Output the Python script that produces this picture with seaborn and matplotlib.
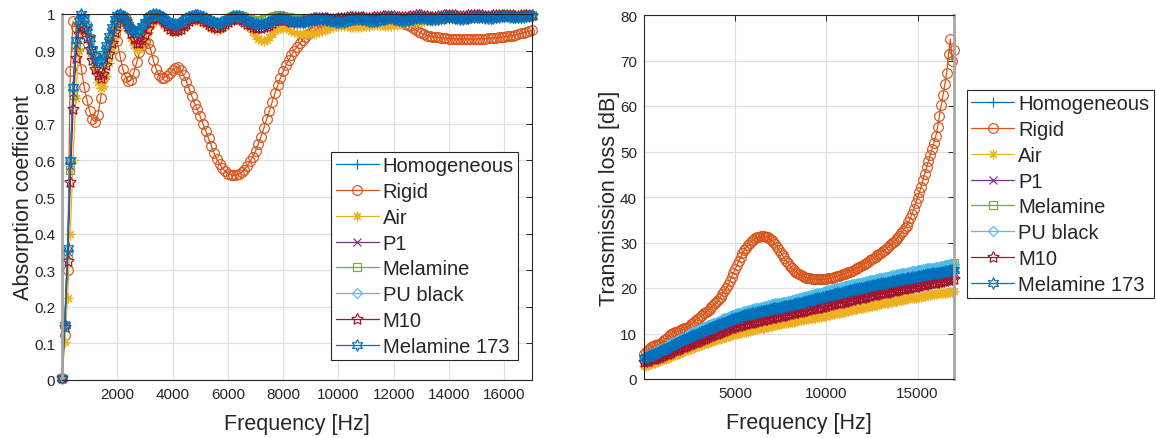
import numpy as np
import pandas as pd
import matplotlib
matplotlib.use("Agg")
import matplotlib.pyplot as plt
import seaborn as sns

# frequency grid [Hz]
freq = np.arange(0, 17001, 100)

names = ["Homogeneous", "Rigid", "Air", "P1", "Melamine", "PU black", "M10", "Melamine 173"]
colors = ["#0072BD", "#D95319", "#EDB120", "#7E2F8E", "#77AC30", "#4DBEEE", "#A2142F", "#0072BD"]
markers = ["+", "o", (8, 2, 0), "x", "s", "D", (5, 1, 0), (6, 1, 0)]
msizes = [7, 7, 7, 6, 6, 5.5, 8.5, 8.5]

abs_yticks = [0, 0.1, 0.2, 0.3, 0.4, 0.5, 0.6, 0.7, 0.8, 0.9, 1]
abs_ylabels = ["0", "0.1", "0.2", "0.3", "0.4", "0.5", "0.6", "0.7", "0.8", "0.9", "1"]
abs_xticks = [2000, 4000, 6000, 8000, 10000, 12000, 14000, 16000]
tl_yticks = [0, 10, 20, 30, 40, 50, 60, 70, 80]
tl_xticks = [5000, 10000, 15000]

# ---------------- absorption coefficient ----------------
abs_homogeneous = [
    0.005, 0.15, 0.35, 0.59, 0.79, 0.92, 0.975, 0.995, 0.99, 0.967,
    0.937, 0.905, 0.882, 0.868, 0.87, 0.886, 0.912, 0.938, 0.963, 0.983,
    0.995, 0.999, 0.994, 0.981, 0.967, 0.957, 0.95, 0.949, 0.954, 0.965,
    0.976, 0.986, 0.994, 0.998, 0.999, 0.997, 0.991, 0.985, 0.979, 0.974,
    0.971, 0.97, 0.972, 0.976, 0.981, 0.986, 0.99, 0.993, 0.995, 0.995,
    0.993, 0.99, 0.986, 0.982, 0.978, 0.975, 0.974, 0.974, 0.976, 0.98,
    0.985, 0.989, 0.992, 0.993, 0.992, 0.989, 0.985, 0.981, 0.977, 0.974,
    0.972, 0.971, 0.971, 0.972, 0.974, 0.977, 0.981, 0.984, 0.986, 0.987,
    0.986, 0.984, 0.981, 0.979, 0.977, 0.976, 0.976, 0.976, 0.977, 0.979,
    0.981, 0.983, 0.984, 0.985, 0.985, 0.984, 0.982, 0.98, 0.978, 0.977,
    0.976, 0.976, 0.977, 0.979, 0.981, 0.983, 0.984, 0.985, 0.984, 0.983,
    0.981, 0.979, 0.978, 0.978, 0.979, 0.981, 0.983, 0.985, 0.986, 0.986,
    0.985, 0.983, 0.981, 0.98, 0.98, 0.981, 0.983, 0.985, 0.987, 0.988,
    0.988, 0.987, 0.985, 0.984, 0.983, 0.983, 0.984, 0.986, 0.988, 0.989,
    0.99, 0.989, 0.988, 0.986, 0.985, 0.985, 0.986, 0.987, 0.989, 0.99,
    0.991, 0.991, 0.99, 0.988, 0.987, 0.987, 0.988, 0.989, 0.991, 0.992,
    0.992, 0.992, 0.991, 0.99, 0.989, 0.989, 0.99, 0.991, 0.992, 0.993,
    0.993]
abs_rigid = [
    0.005, 0.123, 0.30, 0.845, 0.98, 0.965, 0.91, 0.85, 0.80, 0.765,
    0.735, 0.712, 0.705, 0.725, 0.77, 0.825, 0.875, 0.91, 0.935, 0.945,
    0.925, 0.885, 0.85, 0.828, 0.817, 0.82, 0.84, 0.868, 0.895, 0.915,
    0.925, 0.922, 0.905, 0.875, 0.85, 0.833, 0.826, 0.826, 0.831, 0.838,
    0.846, 0.853, 0.855, 0.847, 0.832, 0.815, 0.795, 0.775, 0.755, 0.74,
    0.72, 0.70, 0.68, 0.66, 0.64, 0.62, 0.603, 0.59, 0.579, 0.57,
    0.564, 0.561, 0.559, 0.56, 0.563, 0.567, 0.575, 0.585, 0.597, 0.61,
    0.625, 0.645, 0.665, 0.688, 0.712, 0.735, 0.76, 0.783, 0.805, 0.825,
    0.843, 0.86, 0.875, 0.888, 0.90, 0.91, 0.92, 0.929, 0.937, 0.944,
    0.95, 0.955, 0.96, 0.964, 0.967, 0.97, 0.972, 0.974, 0.975, 0.976,
    0.977, 0.978, 0.979, 0.98, 0.981, 0.982, 0.983, 0.983, 0.983, 0.982,
    0.981, 0.98, 0.979, 0.979, 0.979, 0.98, 0.981, 0.982, 0.983, 0.983,
    0.982, 0.981, 0.979, 0.977, 0.974, 0.971, 0.966, 0.961, 0.956, 0.951,
    0.947, 0.944, 0.941, 0.939, 0.938, 0.937, 0.936, 0.935, 0.934, 0.934,
    0.933, 0.933, 0.932, 0.932, 0.932, 0.932, 0.932, 0.932, 0.932, 0.932,
    0.932, 0.933, 0.933, 0.933, 0.934, 0.934, 0.935, 0.935, 0.936, 0.937,
    0.938, 0.939, 0.94, 0.941, 0.943, 0.945, 0.947, 0.949, 0.951, 0.953,
    0.956]
abs_air = [
    0.005, 0.105, 0.224, 0.40, 0.60, 0.77, 0.90, 0.96, 0.975, 0.958,
    0.925, 0.885, 0.85, 0.815, 0.797, 0.803, 0.83, 0.865, 0.90, 0.935,
    0.96, 0.975, 0.978, 0.97, 0.955, 0.935, 0.915, 0.905, 0.905, 0.915,
    0.932, 0.952, 0.968, 0.978, 0.983, 0.983, 0.978, 0.97, 0.962, 0.956,
    0.952, 0.951, 0.953, 0.958, 0.965, 0.972, 0.978, 0.982, 0.984, 0.984,
    0.982, 0.978, 0.972, 0.966, 0.961, 0.958, 0.957, 0.958, 0.962, 0.968,
    0.975, 0.981, 0.985, 0.986, 0.985, 0.982, 0.978, 0.972, 0.962, 0.95,
    0.94, 0.932, 0.928, 0.927, 0.93, 0.937, 0.946, 0.955, 0.96, 0.963,
    0.963, 0.961, 0.958, 0.954, 0.951, 0.948, 0.946, 0.945, 0.945, 0.945,
    0.946, 0.947, 0.949, 0.951, 0.954, 0.957, 0.96, 0.963, 0.965, 0.967,
    0.968, 0.968, 0.967, 0.966, 0.965, 0.964, 0.964, 0.964, 0.965, 0.966,
    0.967, 0.968, 0.969, 0.97, 0.97, 0.97, 0.969, 0.968, 0.968, 0.968,
    0.969, 0.97, 0.972, 0.974, 0.976, 0.977, 0.978, 0.978, 0.978, 0.978,
    0.979, 0.98, 0.981, 0.982, 0.982, 0.982, 0.983, 0.984, 0.985, 0.986,
    0.986, 0.986, 0.986, 0.986, 0.987, 0.988, 0.989, 0.989, 0.989, 0.989,
    0.989, 0.989, 0.989, 0.99, 0.99, 0.991, 0.991, 0.991, 0.991, 0.991,
    0.991, 0.991, 0.991, 0.992, 0.992, 0.992, 0.992, 0.992, 0.993, 0.993,
    0.993]
abs_p1 = [
    0.005, 0.15, 0.35, 0.585, 0.785, 0.915, 0.97, 0.99, 0.985, 0.962,
    0.932, 0.90, 0.876, 0.862, 0.864, 0.88, 0.906, 0.933, 0.959, 0.98,
    0.993, 0.998, 0.993, 0.979, 0.964, 0.953, 0.946, 0.945, 0.95, 0.962,
    0.974, 0.985, 0.993, 0.998, 0.999, 0.996, 0.99, 0.983, 0.976, 0.971,
    0.968, 0.967, 0.969, 0.974, 0.979, 0.985, 0.99, 0.993, 0.995, 0.995,
    0.993, 0.99, 0.985, 0.98, 0.976, 0.973, 0.972, 0.972, 0.975, 0.979,
    0.985, 0.989, 0.992, 0.993, 0.992, 0.989, 0.985, 0.98, 0.976, 0.973,
    0.971, 0.97, 0.97, 0.971, 0.973, 0.977, 0.981, 0.984, 0.986, 0.987,
    0.987, 0.985, 0.982, 0.98, 0.978, 0.977, 0.977, 0.977, 0.978, 0.98,
    0.982, 0.984, 0.985, 0.986, 0.986, 0.985, 0.983, 0.981, 0.979, 0.978,
    0.977, 0.977, 0.978, 0.98, 0.982, 0.984, 0.985, 0.986, 0.985, 0.984,
    0.982, 0.98, 0.979, 0.979, 0.98, 0.982, 0.984, 0.986, 0.987, 0.987,
    0.986, 0.984, 0.982, 0.981, 0.981, 0.982, 0.984, 0.986, 0.988, 0.989,
    0.989, 0.988, 0.986, 0.985, 0.984, 0.984, 0.985, 0.987, 0.989, 0.99,
    0.991, 0.99, 0.989, 0.987, 0.986, 0.986, 0.987, 0.988, 0.99, 0.991,
    0.992, 0.992, 0.991, 0.989, 0.988, 0.988, 0.989, 0.99, 0.992, 0.993,
    0.993, 0.993, 0.992, 0.991, 0.99, 0.99, 0.991, 0.992, 0.993, 0.994,
    0.994]
abs_melamine = [
    0.005, 0.15, 0.345, 0.575, 0.78, 0.91, 0.965, 0.99, 0.99, 0.968,
    0.935, 0.90, 0.872, 0.855, 0.852, 0.865, 0.89, 0.92, 0.95, 0.975,
    0.99, 0.997, 0.995, 0.985, 0.972, 0.96, 0.952, 0.949, 0.952, 0.962,
    0.975, 0.986, 0.994, 0.999, 1.0, 0.998, 0.993, 0.986, 0.979, 0.974,
    0.97, 0.969, 0.971, 0.976, 0.982, 0.988, 0.993, 0.996, 0.998, 0.998,
    0.996, 0.993, 0.989, 0.984, 0.98, 0.977, 0.975, 0.975, 0.978, 0.983,
    0.988, 0.992, 0.995, 0.996, 0.996, 0.994, 0.991, 0.988, 0.985, 0.983,
    0.982, 0.982, 0.983, 0.985, 0.987, 0.99, 0.993, 0.995, 0.996, 0.996,
    0.995, 0.993, 0.991, 0.989, 0.987, 0.986, 0.985, 0.985, 0.986, 0.987,
    0.988, 0.989, 0.99, 0.99, 0.989, 0.988, 0.986, 0.984, 0.983, 0.982,
    0.981, 0.981, 0.982, 0.983, 0.985, 0.987, 0.988, 0.989, 0.988, 0.987,
    0.985, 0.983, 0.982, 0.982, 0.983, 0.985, 0.987, 0.989, 0.99, 0.99,
    0.989, 0.987, 0.985, 0.984, 0.984, 0.985, 0.987, 0.989, 0.991, 0.992,
    0.992, 0.991, 0.989, 0.988, 0.987, 0.987, 0.988, 0.99, 0.992, 0.993,
    0.994, 0.993, 0.992, 0.99, 0.989, 0.989, 0.99, 0.991, 0.993, 0.994,
    0.995, 0.995, 0.994, 0.992, 0.991, 0.991, 0.992, 0.993, 0.995, 0.996,
    0.996, 0.996, 0.995, 0.994, 0.993, 0.993, 0.994, 0.995, 0.996, 0.997,
    0.997]
abs_pu_black = [
    0.005, 0.15, 0.355, 0.60, 0.80, 0.925, 0.978, 0.998, 0.99, 0.967,
    0.937, 0.907, 0.884, 0.869, 0.87, 0.885, 0.91, 0.937, 0.963, 0.984,
    0.996, 1.0, 0.996, 0.984, 0.971, 0.961, 0.955, 0.954, 0.959, 0.969,
    0.98, 0.99, 0.997, 1.0, 1.0, 0.999, 0.995, 0.989, 0.983, 0.978,
    0.975, 0.974, 0.976, 0.98, 0.985, 0.99, 0.994, 0.997, 0.999, 0.999,
    0.997, 0.994, 0.99, 0.986, 0.982, 0.979, 0.978, 0.978, 0.98, 0.984,
    0.989, 0.993, 0.996, 0.997, 0.996, 0.993, 0.989, 0.985, 0.981, 0.978,
    0.976, 0.975, 0.975, 0.976, 0.978, 0.981, 0.985, 0.988, 0.99, 0.991,
    0.99, 0.988, 0.985, 0.983, 0.981, 0.98, 0.98, 0.98, 0.981, 0.983,
    0.985, 0.987, 0.988, 0.989, 0.989, 0.988, 0.986, 0.984, 0.982, 0.981,
    0.98, 0.98, 0.981, 0.983, 0.985, 0.987, 0.988, 0.989, 0.988, 0.987,
    0.985, 0.983, 0.982, 0.982, 0.983, 0.985, 0.987, 0.989, 0.99, 0.99,
    0.989, 0.987, 0.985, 0.984, 0.984, 0.985, 0.987, 0.989, 0.991, 0.992,
    0.992, 0.991, 0.989, 0.988, 0.987, 0.987, 0.988, 0.99, 0.992, 0.993,
    0.994, 0.993, 0.992, 0.99, 0.989, 0.989, 0.99, 0.991, 0.993, 0.994,
    0.995, 0.995, 0.994, 0.992, 0.991, 0.991, 0.992, 0.993, 0.995, 0.996,
    0.996, 0.996, 0.995, 0.994, 0.993, 0.993, 0.994, 0.995, 0.996, 0.997,
    0.997]
abs_m10 = [
    0.005, 0.146, 0.324, 0.54, 0.74, 0.88, 0.945, 0.965, 0.958, 0.935,
    0.905, 0.875, 0.85, 0.832, 0.826, 0.835, 0.86, 0.89, 0.922, 0.952,
    0.975, 0.988, 0.99, 0.982, 0.966, 0.948, 0.932, 0.922, 0.92, 0.928,
    0.943, 0.96, 0.975, 0.985, 0.99, 0.99, 0.985, 0.977, 0.968, 0.96,
    0.955, 0.953, 0.955, 0.96, 0.967, 0.974, 0.98, 0.985, 0.988, 0.988,
    0.986, 0.982, 0.977, 0.972, 0.967, 0.964, 0.963, 0.964, 0.967, 0.972,
    0.978, 0.983, 0.987, 0.988, 0.987, 0.984, 0.979, 0.974, 0.969, 0.965,
    0.963, 0.962, 0.962, 0.964, 0.967, 0.971, 0.976, 0.98, 0.983, 0.984,
    0.984, 0.983, 0.981, 0.979, 0.978, 0.978, 0.979, 0.98, 0.982, 0.984,
    0.986, 0.988, 0.989, 0.99, 0.99, 0.989, 0.988, 0.987, 0.987, 0.987,
    0.988, 0.989, 0.99, 0.991, 0.992, 0.993, 0.993, 0.993, 0.992, 0.991,
    0.99, 0.99, 0.99, 0.991, 0.992, 0.993, 0.994, 0.995, 0.995, 0.995,
    0.994, 0.993, 0.992, 0.992, 0.992, 0.993, 0.994, 0.995, 0.996, 0.996,
    0.996, 0.995, 0.994, 0.993, 0.993, 0.993, 0.994, 0.995, 0.996, 0.997,
    0.997, 0.997, 0.996, 0.995, 0.994, 0.994, 0.995, 0.996, 0.997, 0.997,
    0.998, 0.997, 0.996, 0.995, 0.995, 0.995, 0.996, 0.997, 0.997, 0.998,
    0.998, 0.997, 0.996, 0.996, 0.995, 0.995, 0.996, 0.997, 0.997, 0.998,
    0.998]
abs_mel173 = [
    0.005, 0.15, 0.36, 0.60, 0.80, 0.93, 0.98, 1.0, 0.99, 0.965,
    0.935, 0.905, 0.885, 0.872, 0.875, 0.89, 0.915, 0.94, 0.965, 0.985,
    0.997, 1.0, 0.995, 0.983, 0.97, 0.96, 0.953, 0.952, 0.957, 0.967,
    0.978, 0.988, 0.995, 0.999, 1.0, 0.998, 0.993, 0.987, 0.981, 0.976,
    0.973, 0.972, 0.974, 0.978, 0.983, 0.988, 0.992, 0.995, 0.997, 0.997,
    0.995, 0.992, 0.988, 0.984, 0.98, 0.977, 0.976, 0.976, 0.978, 0.982,
    0.987, 0.991, 0.994, 0.995, 0.994, 0.991, 0.987, 0.983, 0.979, 0.976,
    0.974, 0.973, 0.973, 0.974, 0.976, 0.979, 0.983, 0.986, 0.988, 0.989,
    0.988, 0.986, 0.983, 0.981, 0.979, 0.978, 0.978, 0.978, 0.979, 0.981,
    0.983, 0.985, 0.986, 0.987, 0.987, 0.986, 0.984, 0.982, 0.98, 0.979,
    0.978, 0.978, 0.979, 0.981, 0.983, 0.985, 0.986, 0.987, 0.986, 0.985,
    0.983, 0.981, 0.98, 0.98, 0.981, 0.983, 0.985, 0.987, 0.988, 0.988,
    0.987, 0.985, 0.983, 0.982, 0.982, 0.983, 0.985, 0.987, 0.989, 0.99,
    0.99, 0.989, 0.987, 0.986, 0.985, 0.985, 0.986, 0.988, 0.99, 0.991,
    0.992, 0.991, 0.99, 0.988, 0.987, 0.987, 0.988, 0.989, 0.991, 0.992,
    0.993, 0.993, 0.992, 0.99, 0.989, 0.989, 0.99, 0.991, 0.993, 0.994,
    0.994, 0.994, 0.993, 0.992, 0.991, 0.991, 0.992, 0.993, 0.994, 0.995,
    0.995]

# ---------------- transmission loss [dB] ----------------
tl_homogeneous = [
    4.4, 4.6, 4.7, 4.9, 5.1, 5.3, 5.4, 5.6, 5.8, 5.9,
    6.1, 6.3, 6.5, 6.7, 6.9, 7.1, 7.3, 7.5, 7.7, 7.9,
    8.1, 8.3, 8.5, 8.6, 8.8, 9.0, 9.2, 9.4, 9.5, 9.7,
    9.9, 10.1, 10.2, 10.4, 10.6, 10.8, 10.9, 11.1, 11.3, 11.4,
    11.6, 11.8, 11.9, 12.1, 12.2, 12.4, 12.6, 12.7, 12.9, 13.0,
    13.2, 13.3, 13.4, 13.5, 13.6, 13.8, 13.9, 14.0, 14.1, 14.2,
    14.3, 14.4, 14.5, 14.6, 14.7, 14.8, 14.8, 14.9, 15.0, 15.1,
    15.2, 15.3, 15.4, 15.4, 15.5, 15.6, 15.7, 15.8, 15.8, 15.9,
    16.0, 16.1, 16.2, 16.3, 16.4, 16.5, 16.6, 16.7, 16.8, 16.9,
    17.0, 17.1, 17.2, 17.3, 17.4, 17.5, 17.6, 17.7, 17.8, 17.9,
    18.0, 18.1, 18.2, 18.3, 18.4, 18.5, 18.6, 18.7, 18.8, 18.9,
    19.0, 19.1, 19.2, 19.3, 19.4, 19.5, 19.5, 19.6, 19.7, 19.8,
    19.9, 20.0, 20.1, 20.2, 20.3, 20.4, 20.4, 20.5, 20.6, 20.7,
    20.8, 20.9, 21.0, 21.0, 21.1, 21.2, 21.3, 21.4, 21.4, 21.5,
    21.6, 21.7, 21.8, 21.8, 21.9, 22.0, 22.1, 22.2, 22.2, 22.3,
    22.4, 22.5, 22.5, 22.6, 22.7, 22.8, 22.8, 22.9, 23.0, 23.0,
    23.1, 23.2, 23.2, 23.3, 23.4, 23.5, 23.5, 23.6, 23.7, 23.7,
    23.8]
tl_rigid = [
    5.5, 5.9, 6.3, 6.7, 7.0, 7.2, 7.4, 7.5, 7.6, 7.8,
    8.1, 8.5, 8.9, 9.3, 9.7, 10.0, 10.2, 10.3, 10.4, 10.5,
    10.7, 10.9, 11.1, 11.3, 11.5, 11.7, 12.0, 12.4, 12.8, 13.2,
    13.5, 13.8, 14.1, 14.4, 14.7, 15.0, 15.4, 15.8, 16.2, 16.7,
    17.1, 17.6, 18.1, 18.7, 19.3, 19.9, 20.6, 21.5, 22.4, 23.3,
    24.2, 25.1, 26.0, 26.8, 27.6, 28.3, 28.9, 29.4, 29.9, 30.3,
    30.6, 30.9, 31.1, 31.3, 31.4, 31.4, 31.4, 31.3, 31.1, 30.8,
    30.5, 30.1, 29.6, 29.0, 28.4, 27.8, 27.2, 26.6, 26.0, 25.4,
    24.9, 24.4, 24.0, 23.6, 23.3, 23.0, 22.8, 22.6, 22.4, 22.3,
    22.2, 22.1, 22.0, 22.0, 21.9, 21.9, 21.9, 21.9, 21.9, 22.0,
    22.0, 22.1, 22.2, 22.3, 22.4, 22.5, 22.6, 22.7, 22.8, 23.0,
    23.1, 23.3, 23.5, 23.6, 23.8, 24.0, 24.2, 24.4, 24.6, 24.9,
    25.1, 25.3, 25.6, 25.8, 26.1, 26.3, 26.6, 26.9, 27.2, 27.5,
    27.8, 28.1, 28.4, 28.7, 29.1, 29.4, 29.8, 30.2, 30.6, 31.0,
    31.5, 32.0, 32.5, 33.1, 33.7, 34.4, 35.3, 36.3, 37.4, 38.6,
    39.8, 41.0, 42.3, 43.7, 45.1, 46.5, 47.9, 49.3, 50.6, 51.9,
    53.3, 55.4, 57.8, 60.2, 62.4, 64.8, 67.3, 71.4, 74.7, 70.0,
    72.2]
tl_air = [
    2.8, 2.9, 3.1, 3.2, 3.4, 3.5, 3.6, 3.8, 3.9, 4.1,
    4.2, 4.4, 4.5, 4.7, 4.8, 5.0, 5.2, 5.3, 5.5, 5.6,
    5.8, 6.0, 6.1, 6.3, 6.4, 6.6, 6.7, 6.9, 7.0, 7.2,
    7.3, 7.4, 7.6, 7.7, 7.9, 8.0, 8.1, 8.3, 8.4, 8.6,
    8.7, 8.8, 8.9, 9.1, 9.2, 9.3, 9.4, 9.5, 9.7, 9.8,
    9.9, 10.0, 10.1, 10.2, 10.3, 10.4, 10.4, 10.5, 10.6, 10.7,
    10.8, 10.9, 11.0, 11.1, 11.2, 11.3, 11.3, 11.4, 11.5, 11.6,
    11.7, 11.8, 11.9, 11.9, 12.0, 12.1, 12.2, 12.3, 12.3, 12.4,
    12.5, 12.6, 12.6, 12.7, 12.8, 12.9, 12.9, 13.0, 13.1, 13.1,
    13.2, 13.3, 13.3, 13.4, 13.5, 13.6, 13.6, 13.7, 13.8, 13.8,
    13.9, 14.0, 14.1, 14.2, 14.3, 14.4, 14.4, 14.5, 14.6, 14.7,
    14.8, 14.9, 15.0, 15.1, 15.2, 15.3, 15.3, 15.4, 15.5, 15.6,
    15.7, 15.8, 15.9, 15.9, 16.0, 16.1, 16.2, 16.3, 16.3, 16.4,
    16.5, 16.6, 16.7, 16.7, 16.8, 16.9, 17.0, 17.1, 17.1, 17.2,
    17.3, 17.4, 17.4, 17.5, 17.6, 17.7, 17.7, 17.8, 17.9, 17.9,
    18.0, 18.1, 18.1, 18.2, 18.3, 18.4, 18.4, 18.5, 18.6, 18.6,
    18.7, 18.8, 18.8, 18.9, 18.9, 19.0, 19.0, 19.1, 19.1, 19.2,
    19.3]
tl_p1 = [
    4.2, 4.4, 4.5, 4.7, 4.9, 5.1, 5.2, 5.4, 5.6, 5.7,
    5.9, 6.1, 6.3, 6.5, 6.7, 6.9, 7.1, 7.3, 7.5, 7.7,
    7.9, 8.1, 8.3, 8.4, 8.6, 8.8, 9.0, 9.2, 9.3, 9.5,
    9.7, 9.9, 10.0, 10.2, 10.4, 10.6, 10.7, 10.9, 11.1, 11.2,
    11.4, 11.6, 11.7, 11.9, 12.0, 12.2, 12.4, 12.5, 12.7, 12.8,
    13.0, 13.1, 13.2, 13.3, 13.4, 13.6, 13.7, 13.8, 13.9, 14.0,
    14.1, 14.2, 14.3, 14.4, 14.5, 14.6, 14.6, 14.7, 14.8, 14.9,
    15.0, 15.1, 15.2, 15.2, 15.3, 15.4, 15.5, 15.6, 15.6, 15.7,
    15.8, 15.9, 16.0, 16.1, 16.2, 16.3, 16.4, 16.5, 16.6, 16.7,
    16.8, 16.9, 17.0, 17.1, 17.2, 17.3, 17.4, 17.5, 17.6, 17.7,
    17.8, 17.9, 18.0, 18.1, 18.2, 18.3, 18.4, 18.5, 18.6, 18.7,
    18.8, 18.9, 19.0, 19.1, 19.2, 19.3, 19.3, 19.4, 19.5, 19.6,
    19.7, 19.8, 19.9, 20.0, 20.1, 20.2, 20.2, 20.3, 20.4, 20.5,
    20.6, 20.7, 20.8, 20.8, 20.9, 21.0, 21.1, 21.2, 21.2, 21.3,
    21.4, 21.5, 21.6, 21.6, 21.7, 21.8, 21.9, 22.0, 22.0, 22.1,
    22.2, 22.3, 22.3, 22.4, 22.5, 22.6, 22.6, 22.7, 22.8, 22.8,
    22.9, 23.0, 23.0, 23.1, 23.2, 23.3, 23.3, 23.4, 23.5, 23.5,
    23.6]
tl_melamine = [
    4.5, 4.7, 4.8, 5.0, 5.2, 5.5, 5.6, 5.8, 6.0, 6.2,
    6.4, 6.6, 6.8, 7.1, 7.3, 7.5, 7.7, 7.9, 8.2, 8.4,
    8.6, 8.8, 9.0, 9.2, 9.4, 9.6, 9.8, 10.0, 10.2, 10.4,
    10.6, 10.8, 10.9, 11.1, 11.3, 11.5, 11.6, 11.8, 12.0, 12.1,
    12.3, 12.5, 12.6, 12.8, 13.0, 13.2, 13.4, 13.5, 13.7, 13.8,
    14.0, 14.1, 14.2, 14.3, 14.4, 14.6, 14.7, 14.8, 14.9, 15.0,
    15.1, 15.2, 15.3, 15.4, 15.5, 15.6, 15.7, 15.8, 15.9, 16.0,
    16.1, 16.2, 16.3, 16.3, 16.4, 16.5, 16.6, 16.7, 16.7, 16.8,
    16.9, 17.0, 17.1, 17.2, 17.3, 17.5, 17.6, 17.7, 17.8, 17.9,
    18.0, 18.1, 18.2, 18.3, 18.4, 18.5, 18.6, 18.7, 18.9, 19.0,
    19.1, 19.2, 19.3, 19.4, 19.5, 19.6, 19.7, 19.8, 19.9, 20.0,
    20.1, 20.2, 20.3, 20.4, 20.5, 20.6, 20.6, 20.7, 20.8, 20.9,
    21.0, 21.1, 21.2, 21.3, 21.4, 21.5, 21.5, 21.6, 21.7, 21.8,
    21.9, 22.0, 22.1, 22.1, 22.2, 22.4, 22.5, 22.6, 22.6, 22.7,
    22.8, 22.9, 23.0, 23.0, 23.1, 23.2, 23.3, 23.4, 23.4, 23.5,
    23.6, 23.7, 23.7, 23.8, 23.9, 24.0, 24.0, 24.1, 24.2, 24.3,
    24.4, 24.5, 24.6, 24.7, 24.8, 24.9, 25.0, 25.1, 25.2, 25.3,
    25.4]
tl_pu_black = [
    4.8, 5.0, 5.1, 5.3, 5.5, 5.8, 5.9, 6.1, 6.3, 6.5,
    6.7, 6.9, 7.1, 7.4, 7.6, 7.8, 8.0, 8.2, 8.5, 8.7,
    8.9, 9.1, 9.3, 9.5, 9.7, 9.9, 10.1, 10.3, 10.5, 10.7,
    10.9, 11.1, 11.2, 11.4, 11.6, 11.8, 11.9, 12.1, 12.3, 12.4,
    12.6, 12.8, 12.9, 13.1, 13.3, 13.5, 13.7, 13.8, 14.0, 14.1,
    14.3, 14.4, 14.5, 14.6, 14.7, 14.9, 15.0, 15.1, 15.2, 15.3,
    15.4, 15.5, 15.6, 15.7, 15.8, 15.9, 16.0, 16.1, 16.2, 16.3,
    16.4, 16.5, 16.6, 16.6, 16.7, 16.8, 16.9, 17.0, 17.0, 17.1,
    17.2, 17.3, 17.4, 17.5, 17.6, 17.8, 17.9, 18.0, 18.1, 18.2,
    18.3, 18.4, 18.5, 18.6, 18.7, 18.8, 18.9, 19.0, 19.2, 19.3,
    19.4, 19.5, 19.6, 19.7, 19.8, 19.9, 20.0, 20.1, 20.2, 20.3,
    20.4, 20.5, 20.6, 20.7, 20.8, 20.9, 20.9, 21.0, 21.1, 21.2,
    21.3, 21.4, 21.5, 21.6, 21.7, 21.8, 21.8, 21.9, 22.0, 22.1,
    22.2, 22.3, 22.4, 22.4, 22.5, 22.7, 22.8, 22.9, 22.9, 23.0,
    23.1, 23.2, 23.3, 23.3, 23.4, 23.5, 23.6, 23.7, 23.7, 23.8,
    23.9, 24.0, 24.0, 24.1, 24.2, 24.3, 24.3, 24.4, 24.5, 24.5,
    24.6, 24.7, 24.7, 24.8, 24.9, 25.0, 25.0, 25.1, 25.2, 25.2,
    25.3]
tl_m10 = [
    3.8, 3.9, 4.0, 4.2, 4.3, 4.4, 4.5, 4.6, 4.8, 4.9,
    5.0, 5.2, 5.4, 5.5, 5.7, 5.9, 6.1, 6.3, 6.4, 6.6,
    6.8, 7.0, 7.1, 7.3, 7.4, 7.6, 7.8, 7.9, 8.1, 8.2,
    8.4, 8.6, 8.7, 8.9, 9.0, 9.2, 9.4, 9.5, 9.7, 9.8,
    10.0, 10.2, 10.3, 10.5, 10.6, 10.8, 10.9, 11.1, 11.2, 11.4,
    11.5, 11.6, 11.7, 11.8, 11.9, 12.0, 12.1, 12.2, 12.3, 12.4,
    12.5, 12.6, 12.7, 12.8, 12.9, 13.0, 13.0, 13.1, 13.2, 13.3,
    13.4, 13.5, 13.6, 13.7, 13.8, 13.9, 13.9, 14.0, 14.1, 14.2,
    14.3, 14.4, 14.5, 14.6, 14.7, 14.8, 14.8, 14.9, 15.0, 15.1,
    15.2, 15.3, 15.4, 15.5, 15.6, 15.7, 15.7, 15.8, 15.9, 16.0,
    16.1, 16.2, 16.3, 16.4, 16.5, 16.6, 16.6, 16.7, 16.8, 16.9,
    17.0, 17.1, 17.2, 17.3, 17.4, 17.5, 17.5, 17.6, 17.7, 17.8,
    17.9, 18.0, 18.1, 18.2, 18.3, 18.4, 18.4, 18.5, 18.6, 18.7,
    18.8, 18.9, 19.0, 19.0, 19.1, 19.2, 19.3, 19.4, 19.4, 19.5,
    19.6, 19.7, 19.8, 19.8, 19.9, 20.0, 20.1, 20.2, 20.2, 20.3,
    20.4, 20.5, 20.6, 20.6, 20.7, 20.8, 20.9, 21.0, 21.0, 21.1,
    21.2, 21.3, 21.4, 21.4, 21.5, 21.6, 21.7, 21.8, 21.8, 21.9,
    22.0]
tl_mel173 = [
    4.6, 4.8, 4.9, 5.1, 5.3, 5.5, 5.6, 5.8, 6.0, 6.1,
    6.3, 6.5, 6.7, 6.9, 7.1, 7.3, 7.5, 7.7, 7.9, 8.1,
    8.3, 8.5, 8.7, 8.8, 9.0, 9.2, 9.4, 9.6, 9.7, 9.9,
    10.1, 10.3, 10.4, 10.6, 10.8, 11.0, 11.1, 11.3, 11.5, 11.6,
    11.8, 12.0, 12.1, 12.3, 12.4, 12.6, 12.8, 12.9, 13.1, 13.2,
    13.4, 13.5, 13.6, 13.7, 13.8, 14.0, 14.1, 14.2, 14.3, 14.4,
    14.5, 14.6, 14.7, 14.8, 14.9, 15.0, 15.0, 15.1, 15.2, 15.3,
    15.4, 15.5, 15.6, 15.6, 15.7, 15.8, 15.9, 16.0, 16.0, 16.1,
    16.2, 16.3, 16.4, 16.5, 16.6, 16.7, 16.8, 16.9, 17.0, 17.1,
    17.2, 17.3, 17.4, 17.5, 17.6, 17.7, 17.8, 17.9, 18.0, 18.1,
    18.2, 18.3, 18.4, 18.5, 18.6, 18.7, 18.8, 18.9, 19.0, 19.1,
    19.2, 19.3, 19.4, 19.5, 19.6, 19.7, 19.7, 19.8, 19.9, 20.0,
    20.1, 20.2, 20.3, 20.4, 20.5, 20.6, 20.6, 20.7, 20.8, 20.9,
    21.0, 21.1, 21.2, 21.2, 21.3, 21.4, 21.5, 21.6, 21.6, 21.7,
    21.8, 21.9, 22.0, 22.0, 22.1, 22.2, 22.3, 22.4, 22.4, 22.5,
    22.6, 22.7, 22.7, 22.8, 22.9, 23.0, 23.0, 23.1, 23.2, 23.2,
    23.3, 23.4, 23.4, 23.5, 23.6, 23.7, 23.7, 23.8, 23.9, 23.9,
    24.0]

abs_data = [abs_homogeneous, abs_rigid, abs_air, abs_p1, abs_melamine, abs_pu_black, abs_m10, abs_mel173]
tl_data = [tl_homogeneous, tl_rigid, tl_air, tl_p1, tl_melamine, tl_pu_black, tl_m10, tl_mel173]
for n, a, t in zip(names, abs_data, tl_data):
    if len(a) != len(freq) or len(t) != len(freq):
        print("length problem", n, len(a), len(t))

sns.set_theme(style="white")
plt.rcParams["font.family"] = ["Liberation Sans", "DejaVu Sans"]

fig = plt.figure(figsize=(11.56, 4.39), dpi=100)
ax1 = fig.add_axes([62 / 1156, 1 - 381 / 439, 470 / 1156, 366 / 439])
ax2 = fig.add_axes([644 / 1156, 1 - 380 / 439, 310 / 1156, 364 / 439])

for ax, data in [(ax1, abs_data), (ax2, tl_data)]:
    for n, c, m, ms, vals in zip(names, colors, markers, msizes, data):
        sns.lineplot(x=freq, y=vals, ax=ax, color=c, marker=m, markersize=ms,
                     mfc="none", mec=c, mew=0.85, lw=0.9, label=n, legend=False,
                     clip_on=False)

txt = "#262626"
for ax in (ax1, ax2):
    ax.set_xlim(0, 17000)
    ax.grid(True, color="#e0e0e0", lw=0.8)
    ax.set_axisbelow(True)
    ax.tick_params(direction="in", top=True, right=True, length=4, width=0.7,
                   labelsize=11, colors=txt, pad=5)
    for s in ax.spines.values():
        s.set_color(txt)
        s.set_linewidth(0.8)
    ax.set_xlabel("Frequency [Hz]", fontsize=15.5, color=txt, labelpad=9)

ax1.set_ylim(0, 1)
ax1.set_yticks(abs_yticks)
ax1.set_yticklabels(abs_ylabels)
ax1.set_xticks(abs_xticks)
ax1.set_ylabel("Absorption coefficient", fontsize=15.5, color=txt, labelpad=0)
ax1.spines["left"].set_color("#a6a6a6")
ax1.spines["left"].set_linewidth(2)

ax2.set_ylim(0, 80)
ax2.set_yticks(tl_yticks)
ax2.set_xticks(tl_xticks)
ax2.set_ylabel("Transmission loss [dB]", fontsize=15.5, color=txt, labelpad=0)
ax2.spines["right"].set_color("#a6a6a6")
ax2.spines["right"].set_linewidth(2)

leg_kw = dict(fontsize=14.5, frameon=True, fancybox=False, edgecolor=txt, framealpha=1,
              borderaxespad=0, labelspacing=0.34, handlelength=2.15, handletextpad=0.2,
              borderpad=0.2)
leg1 = ax1.legend(loc="lower right", bbox_to_anchor=(456 / 470, 20 / 366), **leg_kw)
leg2 = ax2.legend(loc="upper left", bbox_to_anchor=(967 / 1156, 1 - 91 / 439),
                  bbox_transform=fig.transFigure, **leg_kw)
for leg in (leg1, leg2):
    leg.get_frame().set_linewidth(0.8)

fig.savefig("out.png", dpi=100)
